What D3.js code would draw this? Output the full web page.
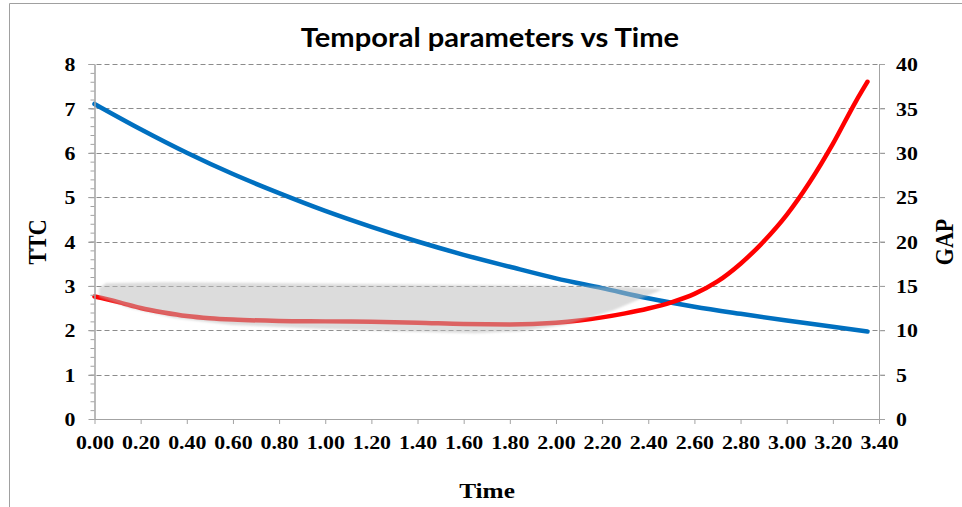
<!DOCTYPE html>
<html><head><meta charset="utf-8">
<script src="https://cdn.jsdelivr.net/npm/d3@7"></script>
<style>body{margin:0;background:#fff}svg{display:block}</style>
</head><body><svg id="c" width="962" height="507"></svg>
<script>
const chartTitle = "Temporal parameters vs Time";
const xLabel = "Time", yLeftLabel = "TTC", yRightLabel = "GAP";
const xTickValues = [0,0.2,0.4,0.6,0.8,1.0,1.2,1.4,1.6,1.8,2.0,2.2,2.4,2.6,2.8,3.0,3.2,3.4];
const yLeftTicks = [0,1,2,3,4,5,6,7,8];
const yRightTicks = [0,5,10,15,20,25,30,35,40];
const ttcTime = [0,0.2,0.4,0.6,0.8,1.0,1.2,1.4,1.6,1.8,2.0,2.2,2.4,2.6,2.8,3.0,3.2,3.35];
const ttcValues = [7.10,6.53,6.00,5.52,5.09,4.69,4.33,4.00,3.70,3.43,3.17,2.95,2.72,2.53,2.37,2.22,2.08,1.97];
const gapTime = [0,0.1,0.2,0.3,0.4,0.5,0.6,0.8,1.0,1.2,1.4,1.6,1.8,2.0,2.1,2.2,2.3,2.4,2.5,2.6,2.7,2.8,2.9,3.0,3.1,3.2,3.3,3.35];
const gapValues = [13.8,13.2,12.5,12.0,11.6,11.35,11.2,11.05,11.0,10.95,10.85,10.7,10.65,10.85,11.1,11.45,11.9,12.45,13.15,14.1,15.5,17.5,20.0,23.0,26.7,31.0,35.8,38.0];
const highlightTime = [0.02,0.05,0.3,0.8,1.4,2.0,2.3,2.46,2.25,2.05,1.85,1.65,1.3,1.0,0.6,0.35,0.15,0.02];
const highlightTTC  = [2.95,3.06,3.08,3.06,3.03,3.0,2.98,2.92,2.45,2.13,1.98,1.93,1.98,2.03,2.12,2.27,2.5,2.75];

const svg = d3.select("#c");
const X0 = 94.5, X1 = 879, Y0 = 419, Y1 = 64;
const x = d3.scaleLinear().domain([0,3.4]).range([X0,X1]);
const yL = d3.scaleLinear().domain([0,8]).range([Y0,Y1]);
const yR = d3.scaleLinear().domain([0,40]).range([Y0,Y1]);
const axisColor = "#a3a3a3";
const SX = 1.15;

// outer frame (partially visible)
svg.append("path").attr("d","M9.5,507 V3.5 H962").attr("fill","none").attr("stroke","#a0a0a0").attr("stroke-width",1);

// gridlines
svg.append("g").selectAll("line").data(yLeftTicks.filter(d=>d>0)).join("line")
  .attr("x1",X0-6).attr("x2",X1+6)
  .attr("y1",d=>Math.round(yL(d))+0.5).attr("y2",d=>Math.round(yL(d))+0.5)
  .attr("stroke","#8c8c8c").attr("stroke-width",1).attr("stroke-dasharray","5,3");

// lines
const lineBlue = d3.line().x((d,i)=>x(ttcTime[i])).y(d=>yL(d)).curve(d3.curveMonotoneX);
svg.append("path").attr("d",lineBlue(ttcValues)).attr("fill","none")
  .attr("stroke","#0070C0").attr("stroke-width",4.5).attr("stroke-linecap","round");
const lineRed = d3.line().x((d,i)=>x(gapTime[i])).y(d=>yR(d)).curve(d3.curveMonotoneX);
svg.append("path").attr("d",lineRed(gapValues)).attr("fill","none")
  .attr("stroke","#FF0000").attr("stroke-width",4.5).attr("stroke-linecap","round");

// highlight shape
const defs = svg.append("defs");
defs.append("filter").attr("id","soft").append("feGaussianBlur").attr("stdDeviation",0.8);
const hl = d3.line().x((d,i)=>x(highlightTime[i])).y(d=>yL(d)).curve(d3.curveLinearClosed);
svg.append("path").attr("d",hl(highlightTTC)).attr("fill","rgb(187,187,187)").attr("fill-opacity",0.52)
  .attr("filter","url(#soft)");

// axes
function styleAxis(g){ g.selectAll("path,line").attr("stroke",axisColor); }
const fontSerif = "'Liberation Serif','Times New Roman',serif";
const tickFont = 19;

const gx = svg.append("g").attr("transform",`translate(0,${Y0})`)
  .call(d3.axisBottom(x).tickValues(xTickValues).tickSize(5).tickSizeOuter(0).tickFormat(d=>d.toFixed(2)));
gx.call(styleAxis);
gx.selectAll("text").attr("y",23).attr("dy","0.35em").attr("transform",`scale(${SX},1)`)
  .attr("font-family",fontSerif).attr("font-weight","bold").attr("font-size",tickFont).attr("fill","#000");

const minorTicks = d3.range(0,8.01,0.2);
const gyMinor = svg.append("g").attr("transform",`translate(${X0},0)`)
  .call(d3.axisLeft(yL).tickValues(minorTicks).tickSize(4).tickSizeOuter(0).tickFormat(""));
gyMinor.call(styleAxis);
const gy = svg.append("g").attr("transform",`translate(${X0},0)`)
  .call(d3.axisLeft(yL).tickValues(yLeftTicks).tickSize(6).tickSizeOuter(0).tickFormat(d3.format("d")));
gy.call(styleAxis);
gy.selectAll("text").attr("x",-19/SX).attr("dy","0.35em").attr("transform",`scale(${SX},1)`)
  .attr("font-family",fontSerif).attr("font-weight","bold").attr("font-size",tickFont).attr("fill","#000");

const gr = svg.append("g").attr("transform",`translate(${X1},0)`)
  .call(d3.axisRight(yR).tickValues(yRightTicks).tickSize(6).tickSizeOuter(0).tickFormat(d3.format("d")));
gr.call(styleAxis);
gr.selectAll("text").attr("x",17/SX).attr("dy","0.35em").attr("transform",`scale(${SX},1)`)
  .attr("font-family",fontSerif).attr("font-weight","bold").attr("font-size",tickFont).attr("fill","#000");

// titles
svg.append("text").attr("transform",`translate(490,47) scale(1.12,1)`).attr("text-anchor","middle")
  .attr("font-family","Lato,'Open Sans',sans-serif").attr("font-weight","bold").attr("font-size",26)
  .attr("fill","#000").text(chartTitle);
svg.append("text").attr("transform",`translate(487,498) scale(${SX},1)`).attr("text-anchor","middle")
  .attr("font-family",fontSerif).attr("font-weight","bold").attr("font-size",22).attr("fill","#000").text(xLabel);
svg.append("text").attr("transform",`translate(46,242) scale(${SX},1) rotate(-90)`).attr("text-anchor","middle")
  .attr("font-family",fontSerif).attr("font-weight","bold").attr("font-size",22).attr("fill","#000").text(yLeftLabel);
svg.append("text").attr("transform",`translate(953,242) scale(${SX},1) rotate(-90)`).attr("text-anchor","middle")
  .attr("font-family",fontSerif).attr("font-weight","bold").attr("font-size",22).attr("fill","#000").text(yRightLabel);
</script></body></html>
